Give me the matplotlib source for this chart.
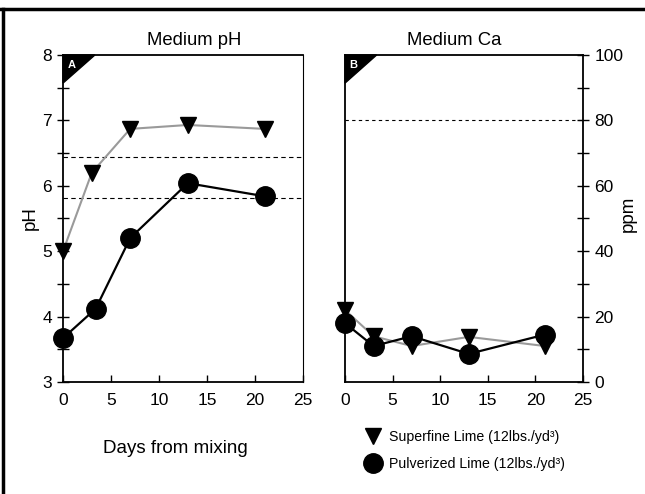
import matplotlib.pyplot as plt
from matplotlib.lines import Line2D
from matplotlib.patches import Polygon
from matplotlib.ticker import MultipleLocator

plt.rcParams['font.family'] = ['Liberation Sans', 'DejaVu Sans']

# days from mixing
days_super = [0, 3, 7, 13, 21]
days_pulv_ph = [0, 3.4, 7, 13, 21]
days_pulv_ca = [0, 3, 7, 13, 21]

# medium pH
ph_super = [5.0, 6.2, 6.87, 6.93, 6.87]
ph_pulv = [3.67, 4.12, 5.2, 6.04, 5.84]
ph_refs = [6.44, 5.81]

# medium Ca (ppm)
ca_super = [22, 14, 11, 13.8, 11]
ca_pulv = [18, 11, 14, 8.6, 14.5]
ca_refs = [80]

labels = ['Superfine Lime (12lbs./yd³)', 'Pulverized Lime (12lbs./yd³)']

fig = plt.figure(figsize=(6.45, 4.94), dpi=100)
ax1 = fig.add_axes([0.0977, 0.2267, 0.372, 0.662])
ax2 = fig.add_axes([0.5349, 0.2267, 0.369, 0.662])

gray = '#9a9a9a'


def corner(ax, letter):
    tri = Polygon([[0, 1], [0.133, 1], [0, 0.914]], closed=True,
                  transform=ax.transAxes, color='black', clip_on=False, zorder=5)
    ax.add_patch(tri)
    ax.text(0.035, 0.968, letter, transform=ax.transAxes, color='white',
            fontsize=8, fontweight='bold', ha='center', va='center', zorder=6)


# panel A
for y in ph_refs:
    ax1.axhline(y, color='black', lw=0.8, ls=(0, (4, 3)), zorder=1)
ax1.plot(days_super, ph_super, color=gray, lw=1.5, marker='v', ms=12,
         mfc='black', mec='black', zorder=3, clip_on=False)
ax1.plot(days_pulv_ph, ph_pulv, color='black', lw=1.6, marker='o', ms=14,
         mfc='black', mec='black', zorder=4, clip_on=False)
ax1.set_xlim(0, 25)
ax1.set_ylim(3, 8)
ax1.yaxis.set_major_locator(MultipleLocator(1))
ax1.yaxis.set_minor_locator(MultipleLocator(0.5))
ax1.set_ylabel('pH', fontsize=13.5)
ax1.yaxis.set_label_coords(-0.1, 0.5)
ax1.set_title('Medium pH', fontsize=13.3, pad=7, x=0.546)
ax1.set_xlabel('Days from mixing', fontsize=13.5)
ax1.xaxis.set_label_coords(0.467, -0.177)
corner(ax1, 'A')

# panel B
for y in ca_refs:
    ax2.axhline(y, color='black', lw=0.8, ls=(0, (3, 3)), zorder=1)
ax2.plot(days_super, ca_super, color=gray, lw=1.5, marker='v', ms=12,
         mfc='black', mec='black', zorder=3, clip_on=False)
ax2.plot(days_pulv_ca, ca_pulv, color='black', lw=1.6, marker='o', ms=14,
         mfc='black', mec='black', zorder=4, clip_on=False)
ax2.set_xlim(0, 25)
ax2.set_ylim(0, 100)
ax2.yaxis.set_major_locator(MultipleLocator(20))
ax2.yaxis.set_minor_locator(MultipleLocator(10))
ax2.yaxis.tick_right()
ax2.yaxis.set_label_position('right')
ax2.set_ylabel('ppm', fontsize=13.5, va='center')
ax2.yaxis.set_label_coords(1.19, 0.514)
ax2.set_title('Medium Ca', fontsize=13.3, pad=7, x=0.458)
corner(ax2, 'B')

for ax in (ax1, ax2):
    ax.xaxis.set_major_locator(MultipleLocator(5))
    ax.tick_params(axis='x', direction='in', length=5, width=1, labelsize=12.5, pad=8)
    ax.tick_params(axis='y', which='both', direction='inout', length=8, width=1,
                   labelsize=12.5, pad=4)
    for s in ax.spines.values():
        s.set_linewidth(1.3)

ax1.spines['right'].set_linewidth(0.8)

handles = [Line2D([], [], ls='none', marker='v', ms=12, color='black'),
           Line2D([], [], ls='none', marker='o', ms=14, color='black')]
fig.legend(handles, labels, loc='upper left', bbox_to_anchor=(0.545, 0.155),
           frameon=False, fontsize=10.2, handletextpad=0.55, labelspacing=0.9,
           handlelength=1.2)

# outer frame (top and left edges)
fig.add_artist(Line2D([0, 1], [0.981, 0.981], transform=fig.transFigure,
                      color='black', lw=2.5))
fig.add_artist(Line2D([0.004, 0.004], [0, 0.981], transform=fig.transFigure,
                      color='black', lw=2.5))

fig.savefig('out.png', dpi=100)
